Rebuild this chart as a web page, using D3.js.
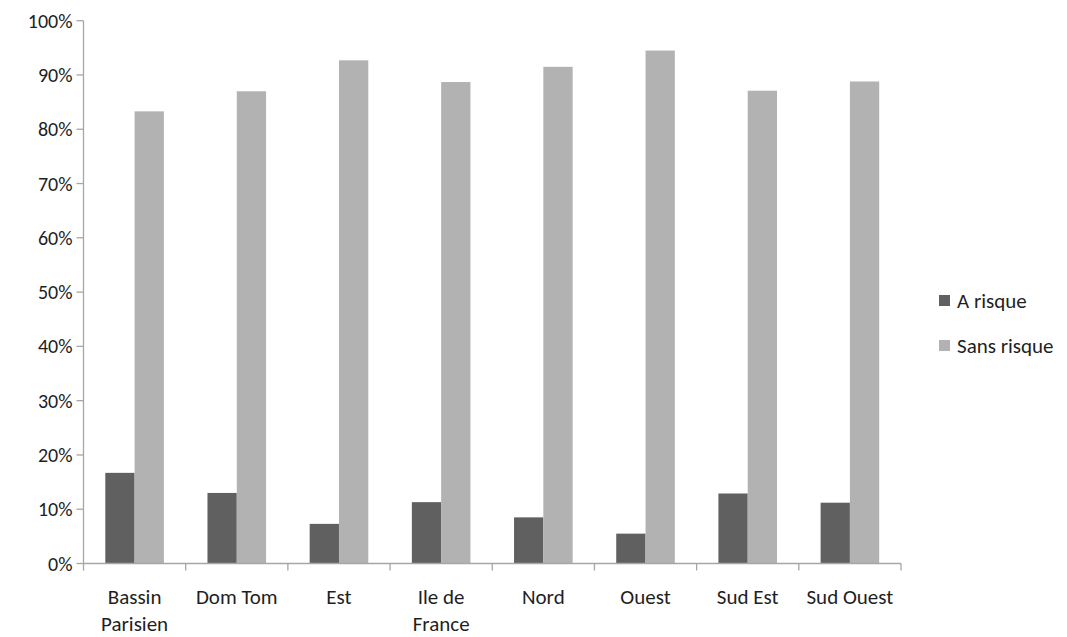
<!DOCTYPE html>
<html>
<head>
<meta charset="utf-8">
<script src="https://cdn.jsdelivr.net/npm/d3@7"></script>
<style>
  html, body { margin: 0; padding: 0; background: #fff; }
  svg text { font-family: Carlito, Lato, "Open Sans", sans-serif; fill: #1f1f1f; }
</style>
</head>
<body>
<svg id="chart" width="1067" height="637"></svg>
<script>
const categories = ["Bassin Parisien", "Dom Tom", "Est", "Ile de France", "Nord", "Ouest", "Sud Est", "Sud Ouest"];
const categoryLines = [["Bassin", "Parisien"], ["Dom Tom"], ["Est"], ["Ile de", "France"], ["Nord"], ["Ouest"], ["Sud Est"], ["Sud Ouest"]];
const seriesNames = ["A risque", "Sans risque"];
const aRisque = [0.167, 0.130, 0.073, 0.113, 0.085, 0.055, 0.129, 0.112];
const sansRisque = [0.833, 0.870, 0.927, 0.887, 0.915, 0.945, 0.871, 0.888];
const yTicks = [0, 0.1, 0.2, 0.3, 0.4, 0.5, 0.6, 0.7, 0.8, 0.9, 1.0];
const colors = ["#606060", "#b2b2b2"];

(function () {
const svg = d3.select("#chart");
const mLeft = 83.5, mRight = 901, mTop = 20.7, mBottom = 563.5;
const fsNum = 20, fsText = 21;

const x = d3.scaleBand().domain(categories).range([mLeft, mRight]).paddingInner(0).paddingOuter(0);
const y = d3.scaleLinear().domain([0, 1]).range([mBottom, mTop]);
const inner = d3.scaleBand().domain(seriesNames).range([0, x.bandwidth()]).paddingInner(0).paddingOuter(0.744);

const data = categories.map((c, i) => ({ cat: c, values: [aRisque[i], sansRisque[i]] }));

// bars
const g = svg.append("g");
data.forEach(d => {
  d.values.forEach((v, j) => {
    g.append("rect")
      .attr("x", x(d.cat) + inner(seriesNames[j]))
      .attr("y", y(v))
      .attr("width", inner.bandwidth())
      .attr("height", y(0) - y(v))
      .attr("fill", colors[j]);
  });
});

// y axis
const axisColor = "#a6a6a6";
svg.append("line").attr("x1", mLeft).attr("x2", mLeft).attr("y1", mTop).attr("y2", mBottom)
  .attr("stroke", axisColor).attr("stroke-width", 1.3);
yTicks.forEach(t => {
  svg.append("line").attr("x1", mLeft - 7).attr("x2", mLeft).attr("y1", y(t)).attr("y2", y(t))
    .attr("stroke", axisColor).attr("stroke-width", 1.3);
  svg.append("text").attr("x", mLeft - 11).attr("y", y(t)).attr("dy", "0.35em")
    .attr("text-anchor", "end").attr("font-size", fsNum).text(d3.format(".0%")(t));
});

// x axis
svg.append("line").attr("x1", mLeft).attr("x2", mRight).attr("y1", mBottom).attr("y2", mBottom)
  .attr("stroke", axisColor).attr("stroke-width", 1.3);
const tickXs = categories.map(c => x(c)).concat([mRight]);
tickXs.forEach(tx => {
  svg.append("line").attr("x1", tx).attr("x2", tx).attr("y1", mBottom).attr("y2", mBottom + 7)
    .attr("stroke", axisColor).attr("stroke-width", 1.3);
});
categories.forEach((c, i) => {
  const t = svg.append("text").attr("text-anchor", "middle").attr("font-size", fsText)
    .attr("x", x(c) + x.bandwidth() / 2).attr("y", 604);
  categoryLines[i].forEach((line, k) => {
    t.append("tspan").attr("x", x(c) + x.bandwidth() / 2).attr("dy", k === 0 ? 0 : 27).text(line);
  });
});

// legend
seriesNames.forEach((s, j) => {
  const ly = 301 + j * 45;
  svg.append("rect").attr("x", 939).attr("y", ly - 6).attr("width", 11).attr("height", 11).attr("fill", colors[j]);
  svg.append("text").attr("x", 957).attr("y", ly).attr("dy", "0.35em").attr("font-size", fsText).text(s);
});
})();
</script>
</body>
</html>
